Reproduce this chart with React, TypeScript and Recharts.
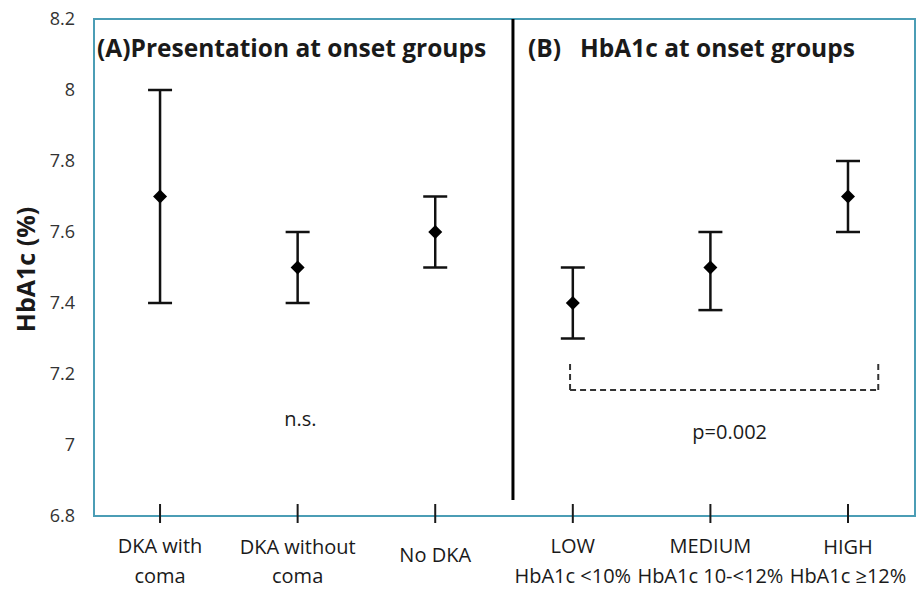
import React from "react";
import {
  ScatterChart,
  Scatter,
  XAxis,
  YAxis,
  ErrorBar,
  ReferenceLine,
  ReferenceArea,
  ReferenceDot,
} from "recharts";

// ---- data ----
const categoryLine1 = ["DKA with", "DKA without", "No DKA", "LOW", "MEDIUM", "HIGH"];
const categoryLine2 = ["coma", "coma", "", "HbA1c <10%", "HbA1c 10-<12%", "HbA1c \u226512%"];
const categoryIndex = [1, 2, 3, 4, 5, 6];
const means = [7.7, 7.5, 7.6, 7.4, 7.5, 7.7];
const lowers = [7.4, 7.4, 7.5, 7.3, 7.38, 7.6];
const uppers = [8.0, 7.6, 7.7, 7.5, 7.6, 7.8];
const yTicks = [6.8, 7, 7.2, 7.4, 7.6, 7.8, 8, 8.2];
const titleA = "(A)Presentation at onset groups";
const titleB = "(B)\u00a0\u00a0\u00a0HbA1c at onset groups";
const nsText = "n.s.";
const pText = "p=0.002";

const tableData = categoryIndex.map((x, i) => ({
  x,
  y: means[i],
  err: [means[i] - lowers[i], uppers[i] - means[i]],
}));

// ---- style ----
const FONT = "'Open Sans', sans-serif";
const BOX = "#4b9db5";
const INK = "#1a1a1a";
const X_DOMAIN: [number, number] = [0.52, 6.487];
const line1Shift = [0, 1, 9, 0, 0, 1];

const XTick = (props: any) => {
  const { x, y, payload } = props;
  const i = categoryIndex.indexOf(payload.value);
  if (i < 0) return null;
  return (
    <g>
      <line x1={x} x2={x} y1={y - 12} y2={y + 7} stroke={INK} strokeWidth={2} />
      <text
        x={x}
        y={y + 37 + line1Shift[i]}
        textAnchor="middle"
        fontFamily={FONT}
        fontSize={20}
        fill={INK}
      >
        {categoryLine1[i]}
      </text>
      {categoryLine2[i] ? (
        <text
          x={x}
          y={y + 67}
          textAnchor="middle"
          fontFamily={FONT}
          fontSize={20}
          fill={INK}
        >
          {categoryLine2[i]}
        </text>
      ) : null}
    </g>
  );
};

const Diamond = (props: any) => {
  const { cx, cy } = props;
  const h = 7;
  return (
    <path
      d={`M${cx},${cy - h}L${cx + h},${cy}L${cx},${cy + h}L${cx - h},${cy}Z`}
      fill="#000"
    />
  );
};

const YLabel = (props: any) => {
  const vb = props.viewBox || {};
  const cx = 25;
  const cy = (vb.y || 0) + (vb.height || 0) / 2 + 2;
  return (
    <text
      x={cx}
      y={cy}
      transform={`rotate(-90 ${cx} ${cy})`}
      textAnchor="middle"
      dominantBaseline="central"
      fontFamily={FONT}
      fontWeight={700}
      fontSize={25}
      fill={INK}
    >
      HbA1c (%)
    </text>
  );
};

const textLabel = (value: string, size: number, bold: boolean, anchor: "start" | "middle") => (p: any) => {
  const vb = p.viewBox || {};
  const x = (vb.x || 0) + (vb.width || 0) / 2;
  const y = (vb.y || 0) + (vb.height || 0) / 2;
  return (
    <text
      x={x}
      y={y}
      textAnchor={anchor}
      dominantBaseline="central"
      fontFamily={FONT}
      fontWeight={bold ? 700 : 400}
      fontSize={size}
      fill={INK}
    >
      {value}
    </text>
  );
};

export default function App() {
  return (
    <div style={{ position: "absolute", left: 0, top: 0, width: 922, height: 589, background: "#fff" }}>
      <ScatterChart
        width={922}
        height={589}
        margin={{ top: 19, right: 7, bottom: 0, left: 0 }}
      >
        <XAxis
          type="number"
          dataKey="x"
          domain={X_DOMAIN}
          allowDataOverflow
          ticks={categoryIndex}
          interval={0}
          axisLine={false}
          tickLine={false}
          tickSize={0}
          tickMargin={0}
          height={73}
          tick={<XTick />}
        />
        <YAxis
          type="number"
          dataKey="y"
          domain={[6.8, 8.2]}
          ticks={yTicks}
          interval={0}
          allowDataOverflow
          axisLine={false}
          tickLine={false}
          tickSize={0}
          tickMargin={19}
          width={94}
          tick={{ fontFamily: FONT, fontSize: 18, fill: "#333" }}
          label={<YLabel />}
        />
        <ReferenceArea
          x1={X_DOMAIN[0]}
          x2={X_DOMAIN[1]}
          y1={6.8}
          y2={8.2}
          fill="none"
          fillOpacity={0}
          stroke={BOX}
          strokeWidth={2}
          ifOverflow="visible"
        />
        <ReferenceLine
          segment={[{ x: 3.565, y: 6.845 }, { x: 3.565, y: 8.2 }]}
          stroke="#000"
          strokeWidth={3}
          ifOverflow="visible"
        />
        <ReferenceLine
          segment={[{ x: 3.98, y: 7.155 }, { x: 6.22, y: 7.155 }]}
          stroke="#333"
          strokeWidth={2}
          strokeDasharray="6 4"
        />
        <ReferenceLine
          segment={[{ x: 3.98, y: 7.155 }, { x: 3.98, y: 7.234 }]}
          stroke="#333"
          strokeWidth={2}
          strokeDasharray="6 4"
        />
        <ReferenceLine
          segment={[{ x: 6.22, y: 7.155 }, { x: 6.22, y: 7.234 }]}
          stroke="#333"
          strokeWidth={2}
          strokeDasharray="6 4"
        />
        <ReferenceDot x={2.02} y={7.076} r={0} fill="none" stroke="none" label={textLabel(nsText, 20, false, "middle")} />
        <ReferenceDot x={5.14} y={7.037} r={0} fill="none" stroke="none" label={textLabel(pText, 20, false, "middle")} />
        <ReferenceDot x={0.542} y={8.121} r={0} fill="none" stroke="none" label={textLabel(titleA, 24.5, true, "start")} />
        <ReferenceDot x={3.674} y={8.121} r={0} fill="none" stroke="none" label={textLabel(titleB, 24.5, true, "start")} />
        <Scatter data={tableData} shape={<Diamond />} isAnimationActive={false}>
          <ErrorBar dataKey="err" direction="y" width={12} stroke="#111" strokeWidth={2.5} isAnimationActive={false} />
        </Scatter>
      </ScatterChart>
    </div>
  );
}
